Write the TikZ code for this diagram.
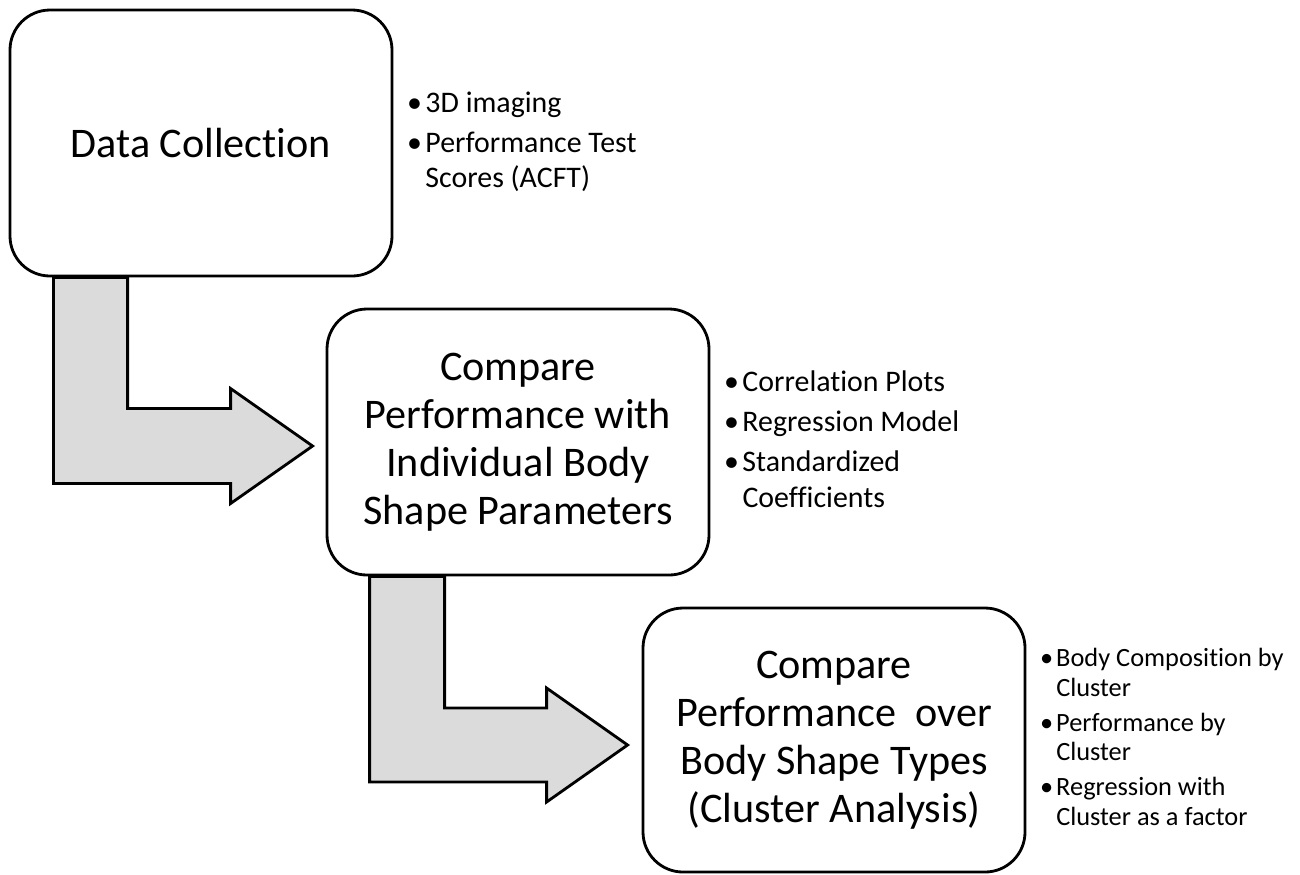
\documentclass[tikz,border=0pt]{standalone}
\usepackage{fontspec}
\setmainfont{Carlito}[Ligatures=NoCommon]
\usetikzlibrary{positioning,calc}

\begin{document}
\begin{tikzpicture}[
    stage/.style={rectangle, draw, thick, rounded corners=0.4cm, fill=white, minimum width=3.82cm, minimum height=2.66cm, align=center, font=\fontsize{12}{13.6}\selectfont},
    bullets/.style={inner sep=0pt, font=\fontsize{8.5}{10}\selectfont},
    smallbullets/.style={inner sep=0pt, font=\fontsize{7.5}{8.4}\selectfont},
    bendarrow/.style={draw, thick, fill=black!14, line join=miter}
]
\useasboundingbox (0,0) rectangle (13,-8.74);

\node[stage] (collect) at (2.01,-1.43) {Data Collection};
\node[stage] (params) at (5.18,-4.42) {Compare\\Performance with\\Individual Body\\Shape Parameters};
\node[stage, minimum height=2.64cm] (clusters) at (8.34,-7.40) {Compare\\Performance\ \ over\\Body Shape Types\\(Cluster Analysis)};

\node[bullets, right=0.13cm of collect] (collectlist) {%
  \begin{tabular}{@{}l@{\hspace{0.035cm}}l@{}}
  \textbullet & 3D imaging\\[1.5pt]
  \textbullet & Performance Test\\
              & Scores (ACFT)
  \end{tabular}};
\node[bullets, right=0.13cm of params] (paramslist) {%
  \begin{tabular}{@{}l@{\hspace{0.035cm}}l@{}}
  \textbullet & Correlation Plots\\[1.5pt]
  \textbullet & Regression Model\\[1.5pt]
  \textbullet & Standardized\\
              & Coefficients
  \end{tabular}};
\node[smallbullets, right=0.13cm of clusters] (clusterslist) {%
  \begin{tabular}{@{}l@{\hspace{0.03cm}}l@{}}
  \textbullet & Body Composition by\\
              & Cluster\\[1.6pt]
  \textbullet & Performance by\\
              & Cluster\\[1.6pt]
  \textbullet & Regression with\\
              & Cluster as a factor
  \end{tabular}};

% bent block arrows between the stages
\coordinate (tip1) at ([xshift=-0.13cm,yshift=-0.04cm]params.west);
\coordinate (tip2) at ([xshift=-0.14cm,yshift=-0.05cm]clusters.west);

\draw[bendarrow] ([xshift=0.45cm]collect.south west) -- ([xshift=1.19cm]collect.south west)
  |- ($(tip1)+(-0.82,0.375)$) -- ++(0,0.2) -- (tip1) -- ($(tip1)+(-0.82,-0.575)$) -- ++(0,0.2)
  -| ([xshift=0.45cm]collect.south west) -- cycle;
\draw[bendarrow] ([xshift=0.44cm]params.south west) -- ([xshift=1.19cm]params.south west)
  |- ($(tip2)+(-0.81,0.37)$) -- ++(0,0.2) -- (tip2) -- ($(tip2)+(-0.81,-0.57)$) -- ++(0,0.2)
  -| ([xshift=0.44cm]params.south west) -- cycle;
\end{tikzpicture}
\end{document}
